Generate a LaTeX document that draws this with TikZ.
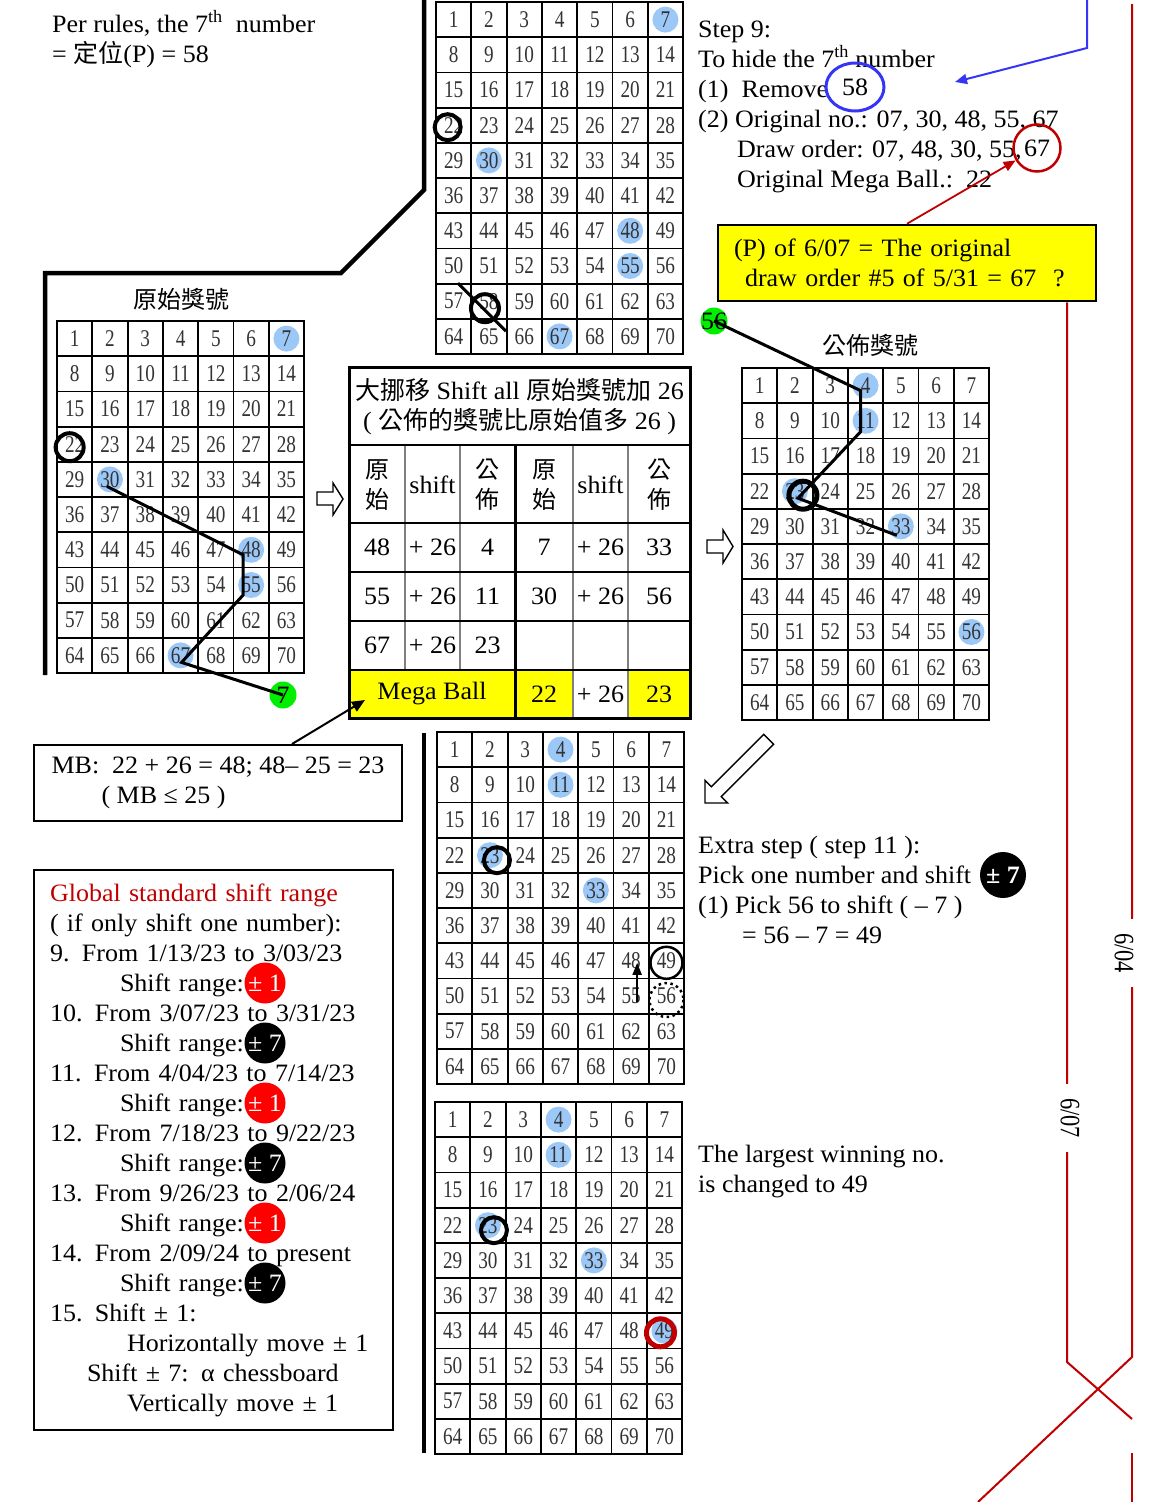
\documentclass[tikz,border=0pt]{standalone}
\usepackage{fontspec}
\setmainfont{Liberation Serif}[FakeStretch=1.04]
\newfontfamily\gridfont{Liberation Serif}[FakeStretch=0.8]
\newfontfamily\cjk{Noto Sans CJK TC}
\usetikzlibrary{arrows.meta,positioning,shapes.geometric,backgrounds,calc}
\definecolor{ballblue}{HTML}{9CC8F8}
\definecolor{markred}{HTML}{C00000}
\definecolor{penblue}{HTML}{3535F5}
\definecolor{ballgreen}{HTML}{00EE00}
\definecolor{noteyellow}{HTML}{FFFF00}
\definecolor{hotred}{HTML}{FF0000}
\newcommand{\bodyfont}{\fontsize{25}{30}\selectfont}
\newcommand{\cjkbody}{\cjk\fontsize{24}{30}\selectfont}
\newcommand{\gridnum}{\gridfont\fontsize{24}{24}\selectfont}
\tikzset{
  cell/.style={draw, line width=1.8pt, minimum width=35.3pt, minimum height=35.2pt, inner sep=0pt, outer sep=0pt, font=\gridnum, text=black!80},
  hit/.style={fill=ballblue},
  ring/.style={draw, line width=4pt},
  trail/.style={line width=3pt},
  txt/.style={anchor=base west, align=left, inner sep=0pt, font=\bodyfont},
  note/.style={draw, line width=2pt, align=left, inner xsep=16pt, inner ysep=0pt, font=\bodyfont},
  tcell/.style={inner sep=0pt, font=\bodyfont},
  rangetag/.style={circle, inner sep=0pt, minimum size=41pt, text=white, font=\bodyfont},
  greenball/.style={circle, fill=ballgreen, inner sep=-3pt, minimum size=27pt, font=\bodyfont},
  hollow/.style={draw, line width=1.4pt, fill=white},
  redline/.style={draw=markred, line width=2pt},
  thickframe/.style={line width=4.5pt},
  arrow/.style={-{Triangle[length=13pt,width=11pt]}, line width=2pt},
  datelbl/.style={rotate=-90, fill=white, inner xsep=14pt, inner ysep=1pt, font=\gridfont\fontsize{28}{28}\selectfont}
}
% 7 x 10 number board, nodes (name-1) ... (name-70)
\newcommand{\ballgrid}[3]{%
  \foreach \row in {0,...,9}{%
    \foreach \col in {1,...,7}{%
      \pgfmathtruncatemacro{\ball}{7*\row+\col}%
      \node[cell] (#1-\ball) at ({#2+(\col-0.5)*35.3},{#3+(\row+0.5)*35.2}) {\ball};
    }%
  }%
}

\begin{document}
\begin{tikzpicture}[x=1pt, y=-1pt]
  \useasboundingbox (0,0) rectangle (1154,1502);

  \ballgrid{T}{436}{2}
  \ballgrid{L}{57}{321}
  \ballgrid{R}{742}{368}
  \ballgrid{M}{437}{732}
  \ballgrid{B}{435}{1102}

  \begin{scope}[on background layer]
    \foreach \k in {7,30,48,55,67} {\fill[hit] (T-\k.center) circle (13); \fill[hit] (L-\k.center) circle (13);}
    \foreach \k in {4,11,23,33,56} \fill[hit] (R-\k.center) circle (13);
    \foreach \k in {4,11,23,33} \fill[hit] (M-\k.center) circle (13);
    \foreach \k in {4,11,23,33,49} \fill[hit] (B-\k.center) circle (13);
  \end{scope}

  \draw[thickframe] (424,0) -- (424,190) -- (341,273) -- (45,273) -- (45,675);
  \draw[thickframe] (424,733) -- (424,1453);

  \node[txt] (rules) at (52,62) {Per rules, the 7\textsuperscript{th}\ \ number\\= {\cjk 定位}(P) = 58};

  % top board
  \draw[ring] ([shift={(-6,2)}]T-22.center) circle (13);
  \draw[ring] ([shift={(-4,7)}]T-58.center) circle (14);
  \draw[line width=3pt] ([shift={(-31,-18)}]T-58.center) -- ([shift={(17,30)}]T-58.center);

  % original numbers
  \node[font=\cjkbody] (origtitle) at (181,299) {原始獎號};
  \draw[ring] ([shift={(-5,3)}]L-22.center) circle (14);
  \node[greenball] (g7) at (283,695) {7};
  \draw[trail] ([shift={(-3,7)}]L-30.center) -- ([shift={(-8,5)}]L-48.center) -- ([shift={(-8,10)}]L-55.center) -- ([shift={(1,7)}]L-67.center) -- (g7.center);

  \draw[hollow] (317,492) -- (333,492) -- (333,483) -- (343,499) -- (333,515) -- (333,505) -- (317,505) -- cycle;
  \draw[hollow] (707,540) -- (723,540) -- (723,530) -- (733,546.5) -- (723,563) -- (723,553) -- (707,553) -- cycle;
  \draw[hollow, shift={(705,803)}, rotate=45] (0,0) -- (16,16) -- (16,7) -- (90,7) -- (90,-7) -- (16,-7) -- (16,-16) -- cycle;

  % shift table
  \fill[noteyellow] (349,670) rectangle (573,718);
  \fill[noteyellow] (628,670) rectangle (690,718);
  \foreach \x in {405,460} \draw[gray, line width=1.2pt] (\x,445) -- (\x,670);
  \foreach \x in {573,628} \draw[gray, line width=1.2pt] (\x,445) -- (\x,718);
  \foreach \y in {445,523,572,621,670} \draw[line width=1.2pt] (349,\y) -- (690,\y);
  \draw[line width=3pt] (515,445) -- (515,718);
  \node[draw, line width=3pt, minimum width=341pt, minimum height=351pt, inner sep=0pt] (shifttab) at (519.5,542.5) {};
  \node[tcell, align=center] (tabtitle) at (519.5,407) {{\cjk 大挪移} Shift all {\cjk 原始獎號加} 26\\( {\cjk 公佈的獎號比原始值多} 26 )};
  \node[tcell, align=center, font=\cjkbody] (h1) at (377,485) {原\\始};
  \node[tcell] (h2) at (432.5,485) {shift};
  \node[tcell, align=center, font=\cjkbody] (h3) at (487.5,485) {公\\佈};
  \node[tcell, align=center, font=\cjkbody] (h4) at (544,485) {原\\始};
  \node[tcell] (h5) at (600.5,485) {shift};
  \node[tcell, align=center, font=\cjkbody] (h6) at (659,485) {公\\佈};
  \foreach \y/\a/\c [count=\i] in {547/48/4, 596/55/11, 645/67/23} {
    \node[tcell] (o\i) at (377,\y) {\a};
    \node[tcell] (s\i) at (432.5,\y) {+ 26};
    \node[tcell] (p\i) at (487.5,\y) {\c};
  }
  \foreach \y/\d/\f [count=\i] in {547/7/33, 596/30/56} {
    \node[tcell] (oo\i) at (544,\y) {\d};
    \node[tcell] (ss\i) at (600.5,\y) {+ 26};
    \node[tcell] (pp\i) at (659,\y) {\f};
  }
  \node[tcell] (mball) at (432,694) {Mega Ball};
  \node[tcell] (mb22) at (544,694) {22};
  \node[tcell] (mbs) at (600.5,694) {+ 26};
  \node[tcell] (mb23) at (659,694) {23};

  \node[note, minimum width=368pt, minimum height=76pt] (mbbox) at (218,783) {MB:\ \ 22 + 26 = 48; 48– 25 = 23\\\hspace*{50pt}( MB ≤ 25 )};
  \draw[arrow] ([xshift=74pt]mbbox.north) -- ([shift={(-67,6)}]mball.center);

  % published numbers
  \node[font=\cjkbody] (pubtitle) at (870,345) {公佈獎號};
  \node[greenball] (g56) at (714,321) {56};
  \draw[ring, line width=5pt] ([shift={(8,4)}]R-23.center) circle (14);
  \draw[trail] (g56.center) -- ([shift={(-5,5)}]R-4.center) -- ([shift={(-5,11)}]R-11.center) -- ([shift={(3,7)}]R-23.center) -- ([shift={(-4,9)}]R-33.center);

  % step 9
  \node[txt] (step9) at (698,187) {Step 9:\\To hide the 7\textsuperscript{th} number\\(1)\ \ Remove\\(2) Original no.: 07, 30, 48, 55, 67\\\hspace*{39pt}Draw order: 07, 48, 30, 55,\\\hspace*{39pt}Original Mega Ball.:\ \ 22};
  \node[ellipse, draw=penblue, line width=3pt, minimum width=58pt, minimum height=48pt, inner sep=0pt, font=\bodyfont] (rm58) at (855,87) {58};
  \node[circle, draw=markred, line width=2.5pt, minimum size=47pt, inner sep=0pt, font=\bodyfont] (c67) at (1037,148) {67};
  \coordinate (bluetop) at (1087,0);
  \coordinate (bluetip) at (955,82);
  \draw[arrow, penblue, -{Triangle[length=12pt,width=10pt]}] (bluetop) -- ++(0,48) -- (bluetip);

  \node[note, fill=noteyellow, line width=2.5pt, text width=346pt, minimum height=76pt] (ybox) at (907,263) {(P) of 6/07 = The original\\\hspace*{11pt}draw order \#5 of 5/31 = 67\ \ ?};
  \draw[arrow, markred, line width=1.8pt, -{Triangle[length=12pt,width=10pt]}] (ybox.north) -- (c67);

  % extra step
  \node[txt] (extra) at (698,943) {Extra step ( step 11 ):\\Pick one number and shift\\(1) Pick 56 to shift ( – 7 )\\\hspace*{44pt}= 56 – 7 = 49};
  \node[rangetag, fill=black, minimum size=46pt, font=\bodyfont\bfseries] (tag7x) at (1003,875) {± 7};
  \draw[ring] ([shift={(7,5)}]M-23.center) circle (13);
  \draw[ring, line width=2.5pt] ([shift={(0,2)}]M-49.center) circle (16);
  \draw[ring, line width=2.5pt, dash pattern=on 2.5pt off 3.5pt] ([shift={(0,4)}]M-56.center) circle (17);
  \draw[arrow, -{Triangle[length=12pt,width=9pt]}] ([shift={(6,6)}]M-55.center) -- ([shift={(6,2)}]M-48.center);

  \node[txt] (largest) at (698,1192) {The largest winning no.\\is changed to 49};
  \draw[ring] ([shift={(6,5)}]B-23.center) circle (13);
  \draw[ring, draw=markred, line width=5pt] ([shift={(-4,2)}]B-49.center) circle (14);

  % shift range list
  \node[note, text width=327pt, minimum height=560pt] (rangebox) at (213.5,1150) {{\color{markred}Global standard shift range}\\( if only shift one number):\\9. From 1/13/23 to 3/03/23\\\hspace*{70pt}Shift range:\\10. From 3/07/23 to 3/31/23\\\hspace*{70pt}Shift range:\\11. From 4/04/23 to 7/14/23\\\hspace*{70pt}Shift range:\\12. From 7/18/23 to 9/22/23\\\hspace*{70pt}Shift range:\\13. From 9/26/23 to 2/06/24\\\hspace*{70pt}Shift range:\\14. From 2/09/24 to present\\\hspace*{70pt}Shift range:\\15. Shift ± 1:\\\hspace*{77pt}Horizontally move ± 1\\\hspace*{37pt}Shift ± 7: α chessboard\\\hspace*{77pt}Vertically move ± 1};
  \foreach \y/\c/\v [count=\i] in {983/hotred/1, 1043/black/7, 1103/hotred/1, 1163/black/7, 1223/hotred/1, 1283/black/7}
    \node[rangetag, fill=\c] (range\i) at (265,\y) {± \v};

  % dates
  \draw[redline] (1132,4) -- (1132,1357) -- (978,1502);
  \draw[redline] (ybox.south -| 1067,0) -- (1067,1362) -- (1132,1419);
  \draw[redline] (1132,1453) -- (1132,1502);
  \node[datelbl] (d604) at (1124,953) {6/04};
  \node[datelbl] (d607) at (1070,1118) {6/07};
\end{tikzpicture}
\end{document}
